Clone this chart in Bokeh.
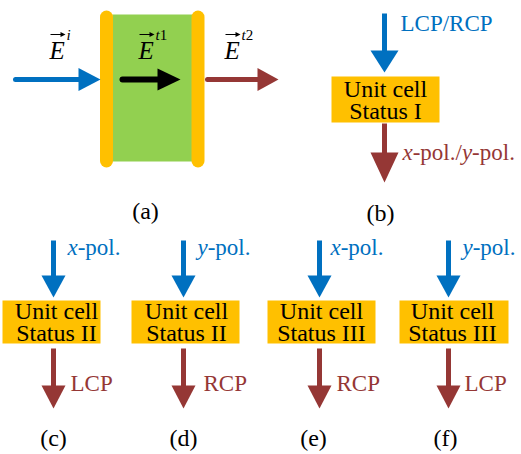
from bokeh.plotting import figure
from bokeh.models import Range1d
from bokeh.core.properties import value
from bokeh.embed import file_html
from bokeh.resources import INLINE

# ---------------- data (texts of the diagram) ----------------
panel_labels = ["(a)", "(b)", "(c)", "(d)", "(e)", "(f)"]
field_base = ["E", "E", "E"]
field_sup_italic = ["i", "t", "t"]
field_sup_plain = ["", "1", "2"]
b_input = "LCP/RCP"
b_status = ["Unit cell", "Status I"]
b_output = [("x", True), ("-pol./", False), ("y", True), ("-pol.", False)]
lower_inputs = [
    [("x", True), ("-pol.", False)],
    [("y", True), ("-pol.", False)],
    [("x", True), ("-pol.", False)],
    [("y", True), ("-pol.", False)],
]
lower_status = ["Status II", "Status II", "Status III", "Status III"]
lower_outputs = ["LCP", "RCP", "RCP", "LCP"]

BLUE = "#0070C0"
BROWN = "#953735"
YELLOW = "#FFC000"
GREEN = "#92D050"
FONT = value("Liberation Serif")

W, H = 521, 454
p = figure(width=W, height=H, output_backend="svg", toolbar_location=None,
           x_range=Range1d(0, W), y_range=Range1d(H, 0),
           min_border=0, outline_line_color=None)
p.axis.visible = False
p.grid.visible = False
p.background_fill_color = "white"

# approximate Times advance widths (em)
WID = {"x": 0.5, "-": 0.333, "p": 0.5, "o": 0.5, "l": 0.278, ".": 0.25, "/": 0.278,
       "y": 0.5, "L": 0.611, "C": 0.667, "P": 0.556, "R": 0.667}
WID_IT = {"x": 0.444, "y": 0.444, "i": 0.278, "t": 0.278, "E": 0.611}


def run_text(x, y, parts, color, size):
    for s, it in parts:
        p.text(x=[x], y=[y], text=[s], text_font=FONT, text_font_size=f"{size}px",
               text_color=color, text_align="left", text_baseline="middle",
               text_font_style="italic" if it else "normal")
        tbl = WID_IT if it else WID
        x += sum(tbl.get(c, 0.5) for c in s) * size


def arrow_h(x0, x1, y, color, lw, head_len, half):
    p.segment(x0=[x0], y0=[y], x1=[x1 - head_len + 1], y1=[y], line_color=color,
              line_width=lw, line_cap="round")
    p.patches(xs=[[x1 - head_len, x1, x1 - head_len]], ys=[[y - half, y, y + half]],
              fill_color=color, line_color=None)


def arrow_v(x, y0, y1, color, lw, head_len, half):
    p.segment(x0=[x], y0=[y0], x1=[x], y1=[y1 - head_len + 1], line_color=color,
              line_width=lw, line_cap="butt")
    p.patches(xs=[[x - half, x, x + half]], ys=[[y1 - head_len, y1, y1 - head_len]],
              fill_color=color, line_color=None)


def center_text(x, y, s, color, size, style="normal"):
    p.text(x=[x], y=[y], text=[s], text_font=FONT, text_font_size=f"{size}px",
           text_color=color, text_align="center", text_baseline="middle",
           text_font_style=style)


# ---------------- panel (a) ----------------
p.quad(left=[112], right=[192], top=[14], bottom=[161], fill_color=GREEN, line_color=None)
for bx in (106, 197.5):
    p.segment(x0=[bx], y0=[16.5], x1=[bx], y1=[160.5], line_color=YELLOW,
              line_width=13, line_cap="round")
arrow_h(15, 100, 79, BLUE, 5, 22, 11.5)
arrow_h(122, 180, 79, "black", 6, 23, 11)
arrow_h(207, 278, 79, BROWN, 5, 21, 11.5)

e_left = [49, 138, 224]
for i in range(3):
    ex = e_left[i]
    p.text(x=[ex], y=[50], text=[field_base[i]], text_font=FONT, text_font_size="25px",
           text_color="black", text_align="left", text_baseline="middle",
           text_font_style="italic")
    # vector arrow over E
    p.segment(x0=[ex + 1], y0=[34], x1=[ex + 13], y1=[34], line_color="black", line_width=1)
    p.patches(xs=[[ex + 11, ex + 16, ex + 11]], ys=[[31.5, 34, 36.5]],
              fill_color="black", line_color=None)
    sx = ex + 17
    run_text(sx, 34, [(field_sup_italic[i], True), (field_sup_plain[i], False)], "black", 15)

center_text(145, 210, panel_labels[0], "black", 24)

# ---------------- panel (b) ----------------
arrow_v(384, 13, 72, BLUE, 5, 22, 14)
p.quad(left=[331], right=[439], top=[76], bottom=[122], fill_color=YELLOW, line_color=None)
center_text(385, 88, b_status[0], "black", 24)
center_text(385, 110, b_status[1], "black", 24)
arrow_v(384, 123, 182, BROWN, 5, 30, 14)
run_text(400, 23, [(b_input, False)], BLUE, 23)
run_text(402, 152, b_output, BROWN, 23)
center_text(380, 212, panel_labels[1], "black", 24)

# ---------------- panels (c)-(f) ----------------
arrow_x = [53, 183, 319, 448]
box_l = [2, 131, 267, 399]
box_r = [100, 239, 375, 508]
text_cx = [56, 186, 321, 452]
in_x = [67, 197, 330, 462]
out_x = [70, 203, 336, 464]
lab_x = [53, 183, 313, 445]
for k in range(4):
    arrow_v(arrow_x[k], 240, 297, BLUE, 5, 22, 12)
    p.quad(left=[box_l[k]], right=[box_r[k]], top=[300], bottom=[343],
           fill_color=YELLOW, line_color=None)
    center_text(text_cx[k], 310, "Unit cell", "black", 24)
    center_text(text_cx[k], 332, lower_status[k], "black", 24)
    arrow_v(arrow_x[k], 348, 408, BROWN, 5, 23, 12)
    run_text(in_x[k], 247, lower_inputs[k], BLUE, 23)
    run_text(out_x[k], 383, [(lower_outputs[k], False)], BROWN, 23)
    center_text(lab_x[k], 437, panel_labels[2 + k], "black", 24)

open("out.html", "w").write(file_html(p, INLINE))
